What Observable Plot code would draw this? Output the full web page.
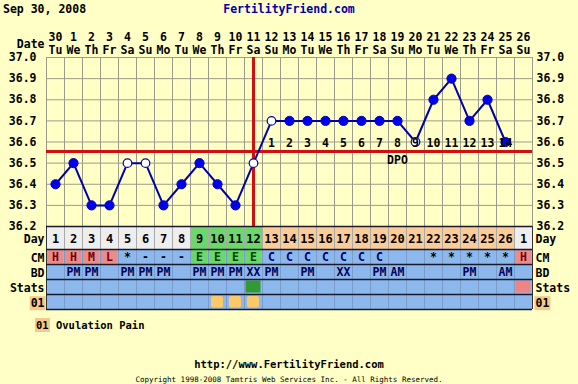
<!DOCTYPE html>
<html><head><meta charset="utf-8">
<script src="https://cdn.jsdelivr.net/npm/d3@7"></script>
<script src="https://cdn.jsdelivr.net/npm/@observablehq/plot@0.6"></script>
<style>
html,body{margin:0;padding:0;}
body{width:578px;height:384px;overflow:hidden;position:relative;background:#ffffc6;font-family:"DejaVu Sans Mono",monospace;font-weight:bold;color:#000;}
.abs{position:absolute;white-space:pre;}
#hdate{left:3px;top:2px;font-size:11.5px;}
#htitle{left:0;width:578px;text-align:center;top:2px;font-size:11.5px;color:#0000aa;}
#chart{left:0;top:0;}
#table{left:0;top:225px;}
#legend{left:35px;top:319px;font-size:10.5px;}
#legend .box{background:#f8c888;padding:1px 1px;}
#url{left:0;width:578px;text-align:center;top:358px;font-size:10.5px;}
#copy{left:0;width:578px;text-align:center;top:375px;font-size:7.5px;font-weight:normal;}
svg{overflow:visible;}
</style>
</head><body>
<div class="abs" id="chart"></div>
<div class="abs" id="table"></div>
<div class="abs" id="hdate">Sep 30, 2008</div>
<div class="abs" id="htitle">FertilityFriend.com</div>
<div class="abs" id="legend"><span class="box">01</span> Ovulation Pain</div>
<div class="abs" id="url">http://www.FertilityFriend.com</div>
<div class="abs" id="copy">Copyright 1998-2008 Tamtris Web Services Inc. - All Rights Reserved.</div>
<script>
// ---- data ----
const dates = [30,1,2,3,4,5,6,7,8,9,10,11,12,13,14,15,16,17,18,19,20,21,22,23,24,25,26];
const weekdays = ["Tu","We","Th","Fr","Sa","Su","Mo","Tu","We","Th","Fr","Sa","Su","Mo","Tu","We","Th","Fr","Sa","Su","Mo","Tu","We","Th","Fr","Sa","Su"];
const cycleDays = [1,2,3,4,5,6,7,8,9,10,11,12,13,14,15,16,17,18,19,20,21,22,23,24,25,26,1];
const temps = [36.4,36.5,36.3,36.3,36.5,36.5,36.3,36.4,36.5,36.4,36.3,36.5,36.7,36.7,36.7,36.7,36.7,36.7,36.7,36.7,36.6,36.8,36.9,36.7,36.8,36.6];
const openDays = [5,6,12,13,21];
const coverline = 36.555;
const ovulationDay = 12;
const dpoLabels = [1,2,3,4,5,6,7,8,9,10,11,12,13,14];
const yTicks = [36.2,36.3,36.4,36.5,36.6,36.7,36.8,36.9,37.0];
const fertileDays = [9,10,11,12];
const cm = ["H","H","M","L","*","-","-","-","E","E","E","E","C","C","C","C","C","C","C","","","*","*","*","*","*","H"];
const bd = ["","PM","PM","","PM","PM","PM","","PM","PM","PM","XX","PM","","PM","","XX","","PM","AM","","","","PM","","AM",""];
const statsCells = [{col: 11, kind: "ov"}, {col: 26, kind: "start"}];
const ovPainCols = [9,10,11];
const rowNames = ["Day","CM","BD","Stats","01"];

// ---- layout / style ----
const rowH = {Day: 23, CM: 15, BD: 15, Stats: 15, "01": 15};
let acc = 0; const rowTop = {};
for (const r of rowNames) { rowTop[r] = acc; acc += rowH[r]; }
const tableH = acc;
const font = "'DejaVu Sans Mono', monospace";
const BLUE = "#8cb8ee", GREEN = "#6cd86c", ORANGE = "#fccc98", GRAY = "#eeeeee", PINK = "#e88c8c";
const RED = "#d01010", GRID = "#9c9c8c";

const cols = d3.range(dates.length);
const pts = temps.map((t, i) => ({col: i, t, day: i + 1}));

const chart = Plot.plot({
  width: 578, height: 227, marginTop: 57, marginBottom: 1, marginLeft: 46, marginRight: 46,
  style: {fontFamily: font, fontSize: "11.5px", fontWeight: "bold", background: "transparent", color: "#000"},
  x: {domain: [-0.5, dates.length - 0.5], axis: null},
  y: {domain: [36.2, 37.0], axis: null},
  marks: [
    Plot.ruleX(d3.range(dates.length + 1), {x: d => d - 0.5, stroke: GRID, strokeWidth: 1}),
    Plot.ruleY(yTicks, {stroke: GRID, strokeWidth: 1}),
    Plot.axisY(yTicks, {anchor: "left", tickSize: 0, tickPadding: 10, tickFormat: d3.format(".1f"), label: null, fill: "#000"}),
    Plot.axisY(yTicks, {anchor: "right", tickSize: 0, tickPadding: 4, tickFormat: d3.format(".1f"), label: null, fill: "#000"}),
    Plot.text(cols, {x: d => d, frameAnchor: "top", dy: -25, text: d => String(dates[d])}),
    Plot.text(cols, {x: d => d, frameAnchor: "top", dy: -12, text: d => weekdays[d]}),
    Plot.text(["Date"], {frameAnchor: "top-left", dx: -2, dy: -18, textAnchor: "end", text: d => d}),
    Plot.ruleY([coverline], {stroke: RED, strokeWidth: 3}),
    Plot.ruleX([ovulationDay - 1], {stroke: RED, strokeWidth: 3}),
    Plot.line(pts, {x: "col", y: "t", stroke: "#0000aa", strokeWidth: 2}),
    Plot.dot(pts.filter(p => !openDays.includes(p.day)), {x: "col", y: "t", r: 4.6, fill: "#0000ee", stroke: "#0000bb", strokeWidth: 1}),
    Plot.dot(pts.filter(p => openDays.includes(p.day)), {x: "col", y: "t", r: 4.3, fill: "#ffffff", stroke: "#0000bb", strokeWidth: 1.2}),
    Plot.text(dpoLabels, {x: (d) => ovulationDay - 1 + d, y: () => coverline, dy: -8, text: d => String(d)}),
    Plot.text(["DPO"], {x: () => ovulationDay - 1 + 8, y: () => coverline, dy: 9, text: d => d})
  ]
});
document.getElementById("chart").append(chart);

// table data
function dayFill(i) {
  const d = i + 1;
  if (i === cycleDays.length - 1) return GRAY;
  if (fertileDays.includes(d)) return GREEN;
  if (d > ovulationDay) return ORANGE;
  return GRAY;
}
function cmFill(v) { return ["H","M","L"].includes(v) ? PINK : v === "E" ? GREEN : null; }
function cmText(v) { return ["H","M","L"].includes(v) ? "#7a0000" : v === "E" ? "#004400" : v === "C" ? "#000066" : "#000"; }
const mid = r => rowTop[r] + rowH[r] / 2;

const table = Plot.plot({
  width: 578, height: tableH + 2, marginTop: 1, marginBottom: 1, marginLeft: 46, marginRight: 46,
  style: {fontFamily: font, fontSize: "11.5px", fontWeight: "bold", background: "transparent", color: "#000"},
  x: {domain: [-0.5, dates.length - 0.5], axis: null},
  y: {domain: [0, tableH], reverse: true, axis: null},
  color: {type: "identity"},
  marks: [
    Plot.rect([0], {x1: -0.5, x2: dates.length - 0.5, y1: rowTop.CM, y2: tableH, fill: BLUE}),
    Plot.rect(cols, {x1: d => d - 0.5, x2: d => d + 0.5, y1: rowTop.Day, y2: rowTop.Day + rowH.Day, fill: dayFill}),
    Plot.rect(cols.filter(i => cmFill(cm[i])), {x1: d => d - 0.5, x2: d => d + 0.5, y1: rowTop.CM, y2: rowTop.CM + rowH.CM, fill: i => cmFill(cm[i]), inset: 1}),
    Plot.rect(statsCells, {x1: d => d.col - 0.5, x2: d => d.col + 0.5, y1: rowTop.Stats, y2: rowTop.Stats + rowH.Stats, fill: d => d.kind === "ov" ? "#339933" : "#f08484", inset: 1.5}),
    Plot.rect(ovPainCols, {x1: d => d - 0.5, x2: d => d + 0.5, y1: rowTop["01"], y2: rowTop["01"] + rowH["01"], fill: "#fcc868", insetLeft: 3, insetRight: 3, insetTop: 2, insetBottom: 1.5, rx: 2}),
    Plot.ruleX(d3.range(1, dates.length), {x: d => d - 0.5, y1: rowTop.Day, y2: rowTop.CM, stroke: "#aaaaaa", strokeWidth: 1}),
    Plot.ruleX(d3.range(1, dates.length), {x: d => d - 0.5, y1: rowTop.CM, y2: tableH, stroke: "#7a9cc8", strokeWidth: 1}),
    Plot.ruleX([-0.5, dates.length - 0.5], {y1: 0, y2: tableH, stroke: "#333", strokeWidth: 1}),
    Plot.ruleY([...rowNames.map(r => rowTop[r]), tableH], {stroke: "#1a1a2a", strokeWidth: 1.5}),
    Plot.text(cols, {x: d => d, y: () => mid("Day"), dy: 1.5, text: d => String(cycleDays[d]), fontSize: 12}),
    Plot.text(cols, {x: d => d, y: () => mid("CM"), text: d => cm[d], fill: d => cmText(cm[d])}),
    Plot.text(cols, {x: d => d, y: () => mid("BD"), text: d => bd[d], fill: "#000055"}),
    Plot.text(rowNames, {y: mid, dy: 1.5, frameAnchor: "left", dx: -2, textAnchor: "end", text: d => d}),
    Plot.text(rowNames, {y: mid, dy: 1.5, frameAnchor: "right", dx: 3, textAnchor: "start", text: d => d})
  ]
});
document.getElementById("table").append(table);

// orange background behind the "01" row labels
d3.select(table).selectAll("text").each(function() {
  if (this.textContent === "01") {
    const b = this.getBBox();
    const r = d3.select(this.parentNode).insert("rect", () => this)
      .attr("x", b.x - 1).attr("y", b.y).attr("width", b.width + 2).attr("height", b.height)
      .attr("fill", "#f8c888");
    const tr = this.getAttribute("transform");
    if (tr) r.attr("transform", tr);
  }
});
</script>
</body></html>
